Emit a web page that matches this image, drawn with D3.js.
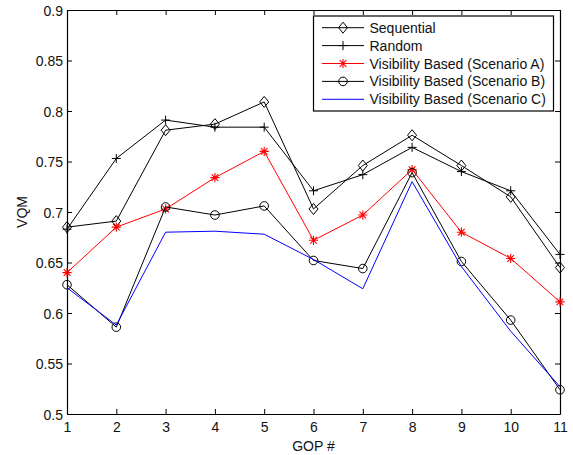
<!DOCTYPE html>
<html>
<head>
<meta charset="utf-8">
<script src="https://cdn.jsdelivr.net/npm/d3@7"></script>
<style>
  html, body { margin: 0; padding: 0; background: #fff; }
  svg { display: block; font-family: "Liberation Sans", Arial, Helvetica, sans-serif; }
</style>
</head>
<body>
<svg id="chart" width="573" height="455"></svg>
<script>
// GOP index on the x axis
const gops = [1, 2, 3, 4, 5, 6, 7, 8, 9, 10, 11];

// VQM scores per scheme
const sequential = [0.685, 0.691, 0.781, 0.787, 0.809, 0.703, 0.746, 0.776, 0.746, 0.715, 0.645];
const random     = [0.683, 0.753, 0.791, 0.784, 0.784, 0.721, 0.737, 0.764, 0.740, 0.721, 0.658];
const scenarioA  = [0.640, 0.685, 0.703, 0.734, 0.760, 0.672, 0.697, 0.742, 0.680, 0.654, 0.611];
const scenarioB  = [0.628, 0.586, 0.705, 0.697, 0.706, 0.652, 0.644, 0.739, 0.651, 0.593, 0.524];
const scenarioC  = [0.625, 0.588, 0.680, 0.681, 0.678, 0.653, 0.624, 0.730, 0.646, 0.582, 0.527];

const seriesNames = ["Sequential", "Random", "Visibility Based (Scenario A)",
                     "Visibility Based (Scenario B)", "Visibility Based (Scenario C)"];

const xTicks = [1, 2, 3, 4, 5, 6, 7, 8, 9, 10, 11];
const yTicks = [0.5, 0.55, 0.6, 0.65, 0.7, 0.75, 0.8, 0.85, 0.9];

const series = [
  { name: seriesNames[0], values: sequential, color: "#000", marker: "diamond" },
  { name: seriesNames[1], values: random,     color: "#000", marker: "plus" },
  { name: seriesNames[2], values: scenarioA,  color: "#ff0000", marker: "asterisk" },
  { name: seriesNames[3], values: scenarioB,  color: "#000", marker: "circle" },
  { name: seriesNames[4], values: scenarioC,  color: "#0000ff", marker: "none" }
];

const svg = d3.select("#chart");
const margin = { left: 67, right: 13, top: 10, bottom: 41 };
const W = 573, H = 455;

const x = d3.scaleLinear().domain([1, 11]).range([margin.left, W - margin.right]);
const y = d3.scaleLinear().domain([0.5, 0.9]).range([H - margin.bottom, margin.top]);

// Axes with inward ticks, drawn on all four sides
const gx = svg.append("g")
  .attr("transform", `translate(0,${y(0.5)})`)
  .call(d3.axisBottom(x).tickValues(xTicks).tickSizeInner(-5).tickSizeOuter(0).tickPadding(8).tickFormat(d3.format("d")));
const gy = svg.append("g")
  .attr("transform", `translate(${x(1)},0)`)
  .call(d3.axisLeft(y).tickValues(yTicks).tickSizeInner(-5).tickSizeOuter(0).tickPadding(4).tickFormat(d => String(+d.toFixed(2))));
const gt = svg.append("g")
  .attr("transform", `translate(0,${y(0.9)})`)
  .call(d3.axisTop(x).tickValues(xTicks).tickSizeInner(-5).tickSizeOuter(0).tickFormat(""));
const gr = svg.append("g")
  .attr("transform", `translate(${x(11)},0)`)
  .call(d3.axisRight(y).tickValues(yTicks).tickSizeInner(-5).tickSizeOuter(0).tickFormat(""));

[gx, gy, gt, gr].forEach(g => {
  g.select(".domain").attr("stroke", "#000").attr("stroke-width", 1.2);
  g.selectAll(".tick line").attr("stroke", "#000").attr("stroke-width", 1);
  g.selectAll(".tick text").attr("fill", "#111").style("font-size", "14px")
    .style("font-family", "'Liberation Sans', Arial, sans-serif");
});
gy.selectAll(".tick text").attr("dy", "0.36em");

// Axis titles
svg.append("text")
  .attr("x", (x(1) + x(11)) / 2).attr("y", 450.5)
  .attr("text-anchor", "middle").attr("fill", "#111")
  .style("font-size", "14px").text("GOP #");
svg.append("text")
  .attr("transform", `translate(26.5,${(y(0.5) + y(0.9)) / 2}) rotate(-90)`)
  .attr("text-anchor", "middle").attr("fill", "#111")
  .style("font-size", "14px").text("VQM");

// Marker drawing helper
function drawMarker(g, type, cx, cy, color) {
  if (type === "diamond") {
    g.append("path")
      .attr("d", `M${cx},${cy - 5.5} L${cx + 4.5},${cy} L${cx},${cy + 5.5} L${cx - 4.5},${cy} Z`)
      .attr("fill", "none").attr("stroke", color).attr("stroke-width", 1);
  } else if (type === "plus") {
    g.append("path")
      .attr("d", `M${cx - 4.5},${cy} H${cx + 4.5} M${cx},${cy - 4.5} V${cy + 4.5}`)
      .attr("stroke", color).attr("stroke-width", 1);
  } else if (type === "asterisk") {
    const r = 4.6, d = r * 0.72;
    g.append("path")
      .attr("d", `M${cx - r},${cy} H${cx + r} M${cx},${cy - r} V${cy + r} ` +
                 `M${cx - d},${cy - d} L${cx + d},${cy + d} M${cx - d},${cy + d} L${cx + d},${cy - d}`)
      .attr("stroke", color).attr("stroke-width", 1.1);
  } else if (type === "circle") {
    g.append("circle").attr("cx", cx).attr("cy", cy).attr("r", 4.3)
      .attr("fill", "none").attr("stroke", color).attr("stroke-width", 1);
  }
}

// Series lines and markers
const line = d3.line().x((d, i) => x(gops[i])).y(d => y(d));
series.forEach(s => {
  const g = svg.append("g");
  g.append("path").attr("d", line(s.values))
    .attr("fill", "none").attr("stroke", s.color).attr("stroke-width", 1);
  s.values.forEach((v, i) => drawMarker(g, s.marker, x(gops[i]), y(v), s.color));
});

// Legend
const lg = svg.append("g");
lg.append("rect").attr("x", 313.5).attr("y", 16).attr("width", 240).attr("height", 95)
  .attr("fill", "#fff").attr("stroke", "#000").attr("stroke-width", 1.2);
series.forEach((s, i) => {
  const cy = 27.7 + i * 17.9;
  lg.append("line").attr("x1", 322).attr("x2", 364).attr("y1", cy).attr("y2", cy)
    .attr("stroke", s.color).attr("stroke-width", 1);
  drawMarker(lg, s.marker, 343, cy, s.color);
  lg.append("text").attr("x", 369.5).attr("y", cy).attr("dy", "0.36em")
    .attr("fill", "#111").style("font-size", "14px").text(s.name);
});
</script>
</body>
</html>
